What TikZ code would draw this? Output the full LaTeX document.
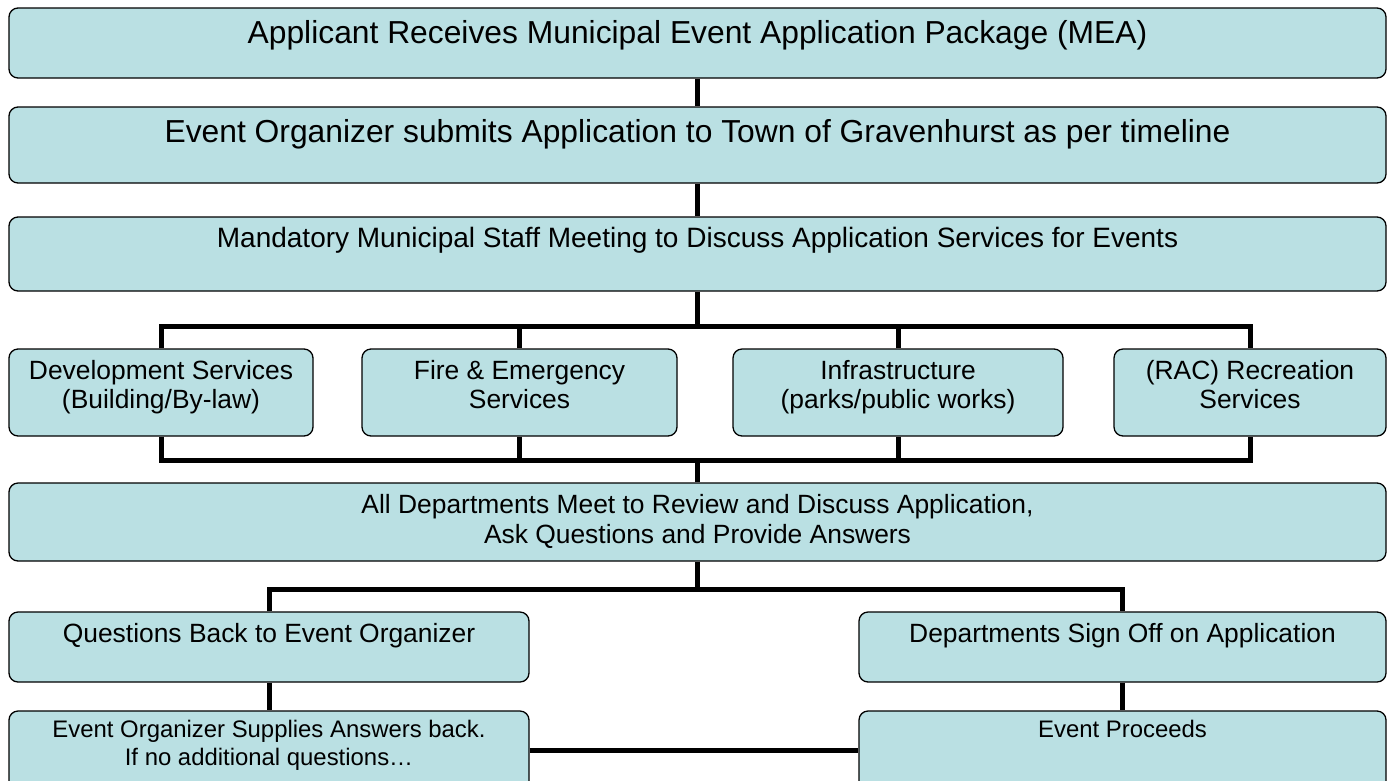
\documentclass[tikz,border=0pt]{standalone}
\usepackage{fontspec}
\setmainfont{Liberation Sans}
\definecolor{boxfill}{RGB}{186,224,227}
\tikzset{
  box/.style={draw=black, line width=1.3pt, fill=boxfill, rounded corners=9pt, inner sep=0pt, shape=rectangle},
  conn/.style={draw=black, line width=5pt},
  txt/.style={anchor=base, inner sep=0pt, text=black},
  fA/.style={font=\fontsize{31.8}{36}\selectfont},
  fB/.style={font=\fontsize{28}{32}\selectfont},
  fC/.style={font=\fontsize{26.4}{30}\selectfont},
  fD/.style={font=\fontsize{23.9}{28}\selectfont}
}
\begin{document}
\begin{tikzpicture}[x=1pt,y=-1pt]
\useasboundingbox (0,0) rectangle (1388,780);
\clip (0,0) rectangle (1388,780);
% boxes
\node[box, minimum width=1377pt, minimum height=70pt] (b1) at (697.5,43) {};
\node[box, minimum width=1377pt, minimum height=76pt] (b2) at (697.5,145) {};
\node[box, minimum width=1377pt, minimum height=74pt] (b3) at (697.5,254) {};
\node[box, minimum width=304pt, minimum height=87pt] (dA) at (161,392.5) {};
\node[box, minimum width=315pt, minimum height=87pt] (dB) at (519.5,392.5) {};
\node[box, minimum width=330pt, minimum height=87pt] (dC) at (898,392.5) {};
\node[box, minimum width=272pt, minimum height=87pt] (dD) at (1250,392.5) {};
\node[box, minimum width=1377pt, minimum height=78pt] (b5) at (697.5,522) {};
\node[box, minimum width=520pt, minimum height=70pt] (q) at (269,647) {};
\node[box, minimum width=527pt, minimum height=70pt] (s) at (1122.5,647) {};
\node[box, minimum width=520pt, minimum height=79pt] (e) at (269,750.5) {};
\node[box, minimum width=527pt, minimum height=79pt] (f) at (1122.5,750.5) {};
% bus coordinates
\coordinate (busT) at (0,326);
\coordinate (busB) at (0,460);
\coordinate (busC) at (0,589);
% connectors
\draw[conn] (b1) -- (b2);
\draw[conn] (b2) -- (b3);
\draw[conn] (b3.south) -- (b3.south |- busT);
\draw[conn] (dA.north) -- (dA.north |- busT) -- (dD.north |- busT) -- (dD.north);
\draw[conn] (dB.north) -- (dB.north |- busT);
\draw[conn] (dC.north) -- (dC.north |- busT);
\draw[conn] (dA.south) -- (dA.south |- busB) -- (dD.south |- busB) -- (dD.south);
\draw[conn] (dB.south) -- (dB.south |- busB);
\draw[conn] (dC.south) -- (dC.south |- busB);
\draw[conn] (b5.north) -- (b5.north |- busB);
\draw[conn] (b5.south) -- (b5.south |- busC);
\draw[conn] (q.north) -- (q.north |- busC) -- (s.north |- busC) -- (s.north);
\draw[conn] (q) -- (e);
\draw[conn] (s) -- (f);
\draw[conn] (e) -- (f);
% texts
\node[txt, fA] (t1) at (697.5,43) {Applicant Receives Municipal Event Application Package (MEA)};
\node[txt, fA] (t2) at (697.5,142) {Event Organizer submits Application to Town of Gravenhurst as per timeline};
\node[txt, fB] (t3) at (697.5,247) {Mandatory Municipal Staff Meeting to Discuss Application Services for Events};
\node[txt, fC] (tA1) at (161,379) {Development Services};
\node[txt, fC] (tA2) at (161,408) {(Building/By-law)};
\node[txt, fC] (tB1) at (519.5,379) {Fire \& Emergency};
\node[txt, fC] (tB2) at (519.5,408) {Services};
\node[txt, fC] (tC1) at (898,379) {Infrastructure};
\node[txt, fC] (tC2) at (898,408) {(parks/public works)};
\node[txt, fC] (tD1) at (1250,379) {(RAC) Recreation};
\node[txt, fC] (tD2) at (1250,408) {Services};
\node[txt, fC] (t51) at (697.5,513) {All Departments Meet to Review and Discuss Application,};
\node[txt, fC] (t52) at (697.5,543) {Ask Questions and Provide Answers};
\node[txt, fC] (tq) at (269,642) {Questions Back to Event Organizer};
\node[txt, fC] (ts) at (1122.5,642) {Departments Sign Off on Application};
\node[txt, fD] (te1) at (269,737) {Event Organizer Supplies Answers back.};
\node[txt, fD] (te2) at (269,765) {If no additional questions…};
\node[txt, fD] (tf) at (1122.5,737) {Event Proceeds};
\end{tikzpicture}
\end{document}
